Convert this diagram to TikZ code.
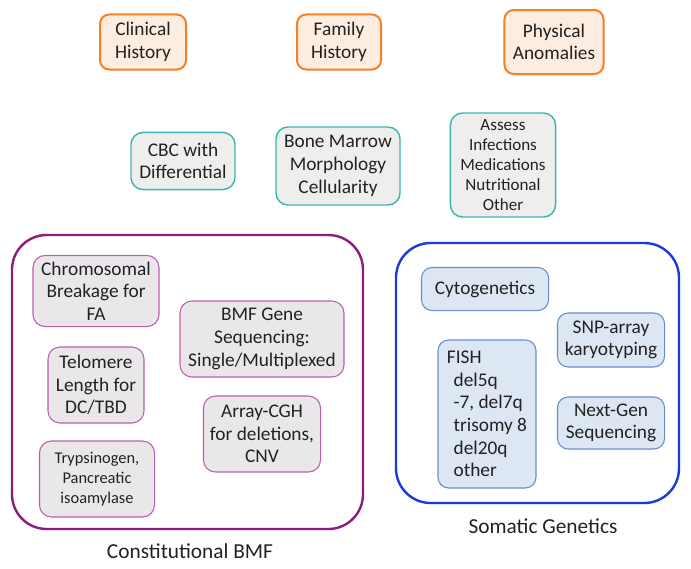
\documentclass[tikz,border=0pt]{standalone}
\usepackage{fontspec}
\setmainfont{Carlito}
\definecolor{orangeline}{HTML}{F58025}
\definecolor{orangefill}{HTML}{FCEDE0}
\definecolor{tealline}{HTML}{3BB6B0}
\definecolor{grayfill}{HTML}{EEEEEC}
\definecolor{purpleframe}{HTML}{8E1A83}
\definecolor{purpleline}{HTML}{B860AC}
\definecolor{purplefill}{HTML}{EAE7EB}
\definecolor{blueframe}{HTML}{1A3ADB}
\definecolor{blueline}{HTML}{6A8CCB}
\definecolor{bluefill}{HTML}{DDE7F3}
\definecolor{inktext}{HTML}{222222}

\begin{document}
\begin{tikzpicture}[x=0.75pt,y=-0.75pt,
  every node/.style={text=inktext,font=\fontsize{14.5}{17}\selectfont,align=center,inner sep=1pt},
  topbox/.style={draw=orangeline,fill=orangefill,line width=1.5pt,rounded corners=7pt},
  labbox/.style={draw=tealline,fill=grayfill,line width=1.1pt,rounded corners=9pt},
  cbox/.style={draw=purpleline,fill=purplefill,line width=0.8pt,rounded corners=9pt},
  sbox/.style={draw=blueline,fill=bluefill,line width=0.8pt,rounded corners=8pt}]
  \useasboundingbox (0,0) rectangle (691,568);
  % history and examination
  \node[topbox,minimum width=64.5pt,minimum height=41.3pt] (clinical) at (143,42) {Clinical\\History};
  \node[topbox,minimum width=63pt,minimum height=41.3pt] (family) at (339,42) {Family\\History};
  \node[topbox,minimum width=74.3pt,minimum height=48pt] (physical) at (554,42) {Physical\\Anomalies};
  % laboratory
  \node[labbox,minimum width=78pt,minimum height=42.8pt] (cbc) at (183,161) {CBC with\\Differential};
  \node[labbox,minimum width=93pt,minimum height=58.5pt] (marrow) at (338,166) {Bone Marrow\\Morphology\\Cellularity};
  \node[labbox,minimum width=78.8pt,minimum height=78pt,font=\fontsize{12.8}{15}\selectfont] (assess) at (503,165) {Assess\\Infections\\Medications\\Nutritional\\Other};
  % constitutional
  \draw[purpleframe,line width=1.8pt,rounded corners=26pt] (12,235) rectangle (363,529);
  \node[font=\fontsize{16}{18}\selectfont] (constlabel) at (190,551) {Constitutional BMF};
  \node[cbox,minimum width=94.5pt,minimum height=53.3pt] (chrom) at (96,291) {Chromosomal\\Breakage for\\FA};
  \node[cbox,minimum width=72pt,minimum height=57pt] (telo) at (96,385) {Telomere\\Length for\\DC/TBD};
  \node[cbox,minimum width=86.3pt,minimum height=57pt,font=\fontsize{12.3}{15}\selectfont] (tryp) at (97,479) {Trypsinogen,\\Pancreatic\\isoamylase};
  \node[cbox,minimum width=123pt,minimum height=57pt] (bmfgene) at (262,339) {BMF Gene\\Sequencing:\\Single/Multiplexed};
  \node[cbox,minimum width=87.8pt,minimum height=57pt] (cgh) at (262,434) {Array-CGH\\for deletions,\\CNV};
  % somatic
  \draw[blueframe,line width=1.8pt,rounded corners=26pt] (396,243) rectangle (679,503);
  \node[font=\fontsize{16}{18}\selectfont] (somlabel) at (543,526) {Somatic Genetics};
  \node[sbox,minimum width=95.3pt,minimum height=32.3pt] (cyto) at (485,289) {Cytogenetics};
  \node[sbox,minimum width=80.3pt,minimum height=40.5pt] (snp) at (611,340) {SNP-array\\karyotyping};
  \node[sbox,minimum width=73.5pt,minimum height=111pt,align=left] (fish) at (487,414)
    {FISH\\\hspace{5pt}del5q\\\hspace{5pt}-7, del7q\\\hspace{5pt}trisomy 8\\\hspace{5pt}del20q\\\hspace{5pt}other};
  \node[sbox,minimum width=80.3pt,minimum height=39pt] (nextgen) at (611,423) {Next-Gen\\Sequencing};
\end{tikzpicture}
\end{document}
